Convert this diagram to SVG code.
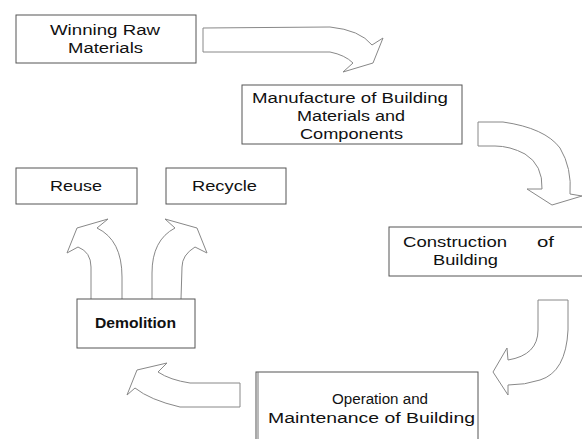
<svg xmlns="http://www.w3.org/2000/svg" width="582" height="439" viewBox="0 0 582 439">
<style>
.box{fill:#fff;stroke:#555;stroke-width:1}
.arr{fill:#fff;stroke:#888;stroke-width:1;stroke-linejoin:miter}
text{font-family:"Liberation Sans",Arial,sans-serif;font-size:15.5px;fill:#111}
.b{font-weight:bold}
</style>
<rect width="582" height="439" fill="#fff"/>
<g id="connectors">
<path class="arr" d="M203,28 L330,27 Q360,30 372,45 L383,38 L373,63 L343,72 L353,63 Q345,55 330,52 L203,52 Z"/>
<path class="arr" d="M478,122 L503,122 Q545,128 560,148 Q572,168 570,194 L582,196 L552,205 L527,189 L542,189 Q543,165 525,154 Q510,146 495,146 L478,146 Z"/>
<path class="arr" d="M538,300 L568,300 L568,330 Q566,372 540,380 Q525,385 508,385 L508,395 L493,372 L507,348 L508,360 Q538,355 538,330 Z"/>
<path class="arr" d="M240,383 L190,383 Q170,380 158,372 L167,363 L137,370 L127,395 L135,388 Q150,400 180,407 L240,407 Z"/>
<path class="arr" d="M91,299 L91,267 Q91,252 78,247 L67,253 L77,228 L108,219 L97,228 Q122,240 122,277 L122,299"/>
<path class="arr" d="M152,299 L152,273 Q152,240 175,228 L165,219 L197,228 L207,253 L195,247 Q182,255 182,267 L181,299"/>
</g>
<g id="winning">
<rect class="box" x="16" y="15" width="180" height="48"/>
<text x="50" y="35" textLength="110" lengthAdjust="spacingAndGlyphs">Winning Raw</text>
<text x="68" y="53" textLength="75" lengthAdjust="spacingAndGlyphs">Materials</text>
</g>
<g id="manufacture">
<rect class="box" x="242" y="85" width="220" height="59"/>
<text x="252" y="103" textLength="196" lengthAdjust="spacingAndGlyphs">Manufacture of Building</text>
<text x="297" y="121" textLength="108" lengthAdjust="spacingAndGlyphs">Materials and</text>
<text x="300" y="139" textLength="103" lengthAdjust="spacingAndGlyphs">Components</text>
</g>
<g id="construction">
<rect class="box" x="389" y="227" width="200" height="49"/>
<text x="403" y="247" textLength="104" lengthAdjust="spacingAndGlyphs">Construction</text>
<text x="537" y="247" textLength="17" lengthAdjust="spacingAndGlyphs">of</text>
<text x="433" y="265" textLength="65" lengthAdjust="spacingAndGlyphs">Building</text>
</g>
<g id="operation">
<rect class="box" x="256" y="372" width="222" height="80"/>
<line x1="258" y1="372" x2="258" y2="439" stroke="#777" stroke-width="1"/>
<text x="332" y="404" textLength="96" lengthAdjust="spacingAndGlyphs">Operation and</text>
<text x="268" y="423" textLength="207" lengthAdjust="spacingAndGlyphs">Maintenance of Building</text>
</g>
<g id="demolition">
<rect class="box" x="77" y="299" width="118" height="49"/>
<text class="b" x="95" y="328" textLength="81" lengthAdjust="spacingAndGlyphs">Demolition</text>
</g>
<g id="reuse">
<rect class="box" x="16" y="168" width="121" height="36"/>
<text x="50" y="191" textLength="52" lengthAdjust="spacingAndGlyphs">Reuse</text>
</g>
<g id="recycle">
<rect class="box" x="166" y="168" width="120" height="36"/>
<text x="192" y="191" textLength="65" lengthAdjust="spacingAndGlyphs">Recycle</text>
</g>
</svg>
